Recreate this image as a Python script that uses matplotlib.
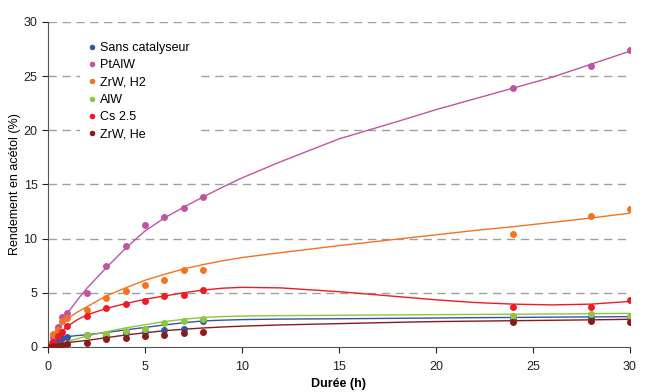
import matplotlib
matplotlib.use("Agg")
import matplotlib.pyplot as plt

plt.rcParams['font.family'] = ['Liberation Sans', 'DejaVu Sans']

# Measured points (time in h, yield in %)
t_pts = [0, 0.25, 0.5, 0.75, 1, 2, 3, 4, 5, 6, 7, 8, 24, 28, 30]

sans_cat = [0, 0.4, 0.6, 0.8, 0.9, 1.1, 1.0, 1.3, 1.4, 1.6, 1.7, 2.4, 2.6, 2.7, 2.7]
ptalw = [0, 0.9, 1.8, 2.8, 3.1, 5.0, 7.5, 9.3, 11.3, 12.0, 12.8, 13.8, 23.9, 25.9, 27.4]
zrw_h2 = [0, 1.2, 1.6, 2.4, 2.7, 3.4, 4.5, 5.2, 5.7, 6.2, 7.1, 7.1, 10.4, 12.1, 12.7]
alw = [0, 0.05, 0.1, 0.15, 0.2, 1.1, 1.2, 1.5, 1.7, 2.2, 2.4, 2.6, 2.9, 3.0, 2.9]
cs25 = [0, 0.5, 1.0, 1.4, 1.9, 2.9, 3.6, 4.0, 4.2, 4.7, 4.8, 5.3, 3.7, 3.7, 4.3]
zrw_he = [0, 0.05, 0.1, 0.2, 0.3, 0.4, 0.7, 0.8, 1.0, 1.1, 1.3, 1.4, 2.3, 2.4, 2.3]

# Fitted curves
t_fit = [0, 0.25, 0.5, 1, 1.5, 2, 3, 4, 5, 6, 7, 8, 9, 10, 12, 15, 18, 20, 22, 24, 26, 28, 30]

sans_fit = [0, 0.45, 0.7, 0.95, 1.05, 1.12, 1.33, 1.57, 1.8, 2.03, 2.23, 2.4, 2.47, 2.52, 2.57, 2.6, 2.64, 2.67, 2.7, 2.72, 2.75, 2.77, 2.8]
ptalw_fit = [0, 1.0, 1.8, 3.1, 4.3, 5.4, 7.3, 9.1, 10.7, 11.9, 12.9, 13.85, 14.75, 15.6, 17.1, 19.2, 20.8, 21.9, 22.9, 23.9, 24.9, 26.1, 27.3]
zrw_h2_fit = [0, 1.0, 1.6, 2.6, 3.2, 3.7, 4.7, 5.45, 6.15, 6.7, 7.2, 7.6, 7.95, 8.25, 8.7, 9.35, 9.95, 10.35, 10.75, 11.1, 11.5, 11.9, 12.35]
alw_fit = [0, 0.12, 0.25, 0.5, 0.75, 1.0, 1.4, 1.75, 2.05, 2.34, 2.55, 2.72, 2.8, 2.85, 2.89, 2.92, 2.96, 2.98, 3.0, 3.02, 3.04, 3.07, 3.1]
cs25_fit = [0, 0.6, 1.1, 1.9, 2.5, 2.95, 3.55, 4.0, 4.4, 4.7, 5.0, 5.25, 5.42, 5.5, 5.45, 5.1, 4.65, 4.35, 4.1, 3.95, 3.88, 3.95, 4.2]
zrw_he_fit = [0, 0.12, 0.22, 0.4, 0.5, 0.6, 0.85, 1.1, 1.3, 1.5, 1.63, 1.75, 1.84, 1.92, 2.03, 2.15, 2.27, 2.34, 2.38, 2.42, 2.46, 2.5, 2.55]

labels = ['Sans catalyseur', 'PtAlW', 'ZrW, H2', 'AlW', 'Cs 2.5', 'ZrW, He']
colors = ['#3853a4', '#c054a4', '#f47321', '#8dc63f', '#ed1c24', '#8b1a1a']
points = [sans_cat, ptalw, zrw_h2, alw, cs25, zrw_he]
fits = [sans_fit, ptalw_fit, zrw_h2_fit, alw_fit, cs25_fit, zrw_he_fit]

fig = plt.figure(figsize=(6.48, 3.92), dpi=100)
ax = fig.add_axes([0.074, 0.115, 0.898, 0.829])

for y in [5, 10, 15, 20, 25, 30]:
    ax.axhline(y, color='#a0a0a0', lw=1, ls=(0, (6, 4)), zorder=0)

for lab, c, p, f in zip(labels, colors, points, fits):
    ax.plot(t_fit, f, color=c, lw=1, zorder=2)
    ax.plot(t_pts, p, 'o', color=c, ms=5, mec='none', label=lab, zorder=3)

ax.set_xlim(0, 30)
ax.set_ylim(0, 30)
ax.set_xticks(range(0, 31, 5))
ax.set_yticks(range(0, 31, 5))
ax.tick_params(labelsize=9, colors='#222222', length=4, width=0.8)
ax.tick_params(axis='x', pad=6)
for s in ['top', 'right']:
    ax.spines[s].set_visible(False)
for s in ['left', 'bottom']:
    ax.spines[s].set_color('#555555')

ax.set_xlabel('Durée (h)', fontsize=9, fontweight='bold', labelpad=4)
ax.set_ylabel('Rendement en acétol (%)', fontsize=9, labelpad=1.5)

leg = ax.legend(loc='upper left', bbox_to_anchor=(0.045, 0.98), frameon=True,
                fontsize=9, handlelength=0.6, handletextpad=0.4, labelspacing=0.42,
                borderpad=0.6, markerscale=0.8)
leg.get_frame().set_edgecolor('none')
leg.get_frame().set_facecolor('white')
leg.get_frame().set_alpha(1)
leg.get_frame().set_boxstyle('square', pad=0)

fig.savefig('out.png', dpi=100)
